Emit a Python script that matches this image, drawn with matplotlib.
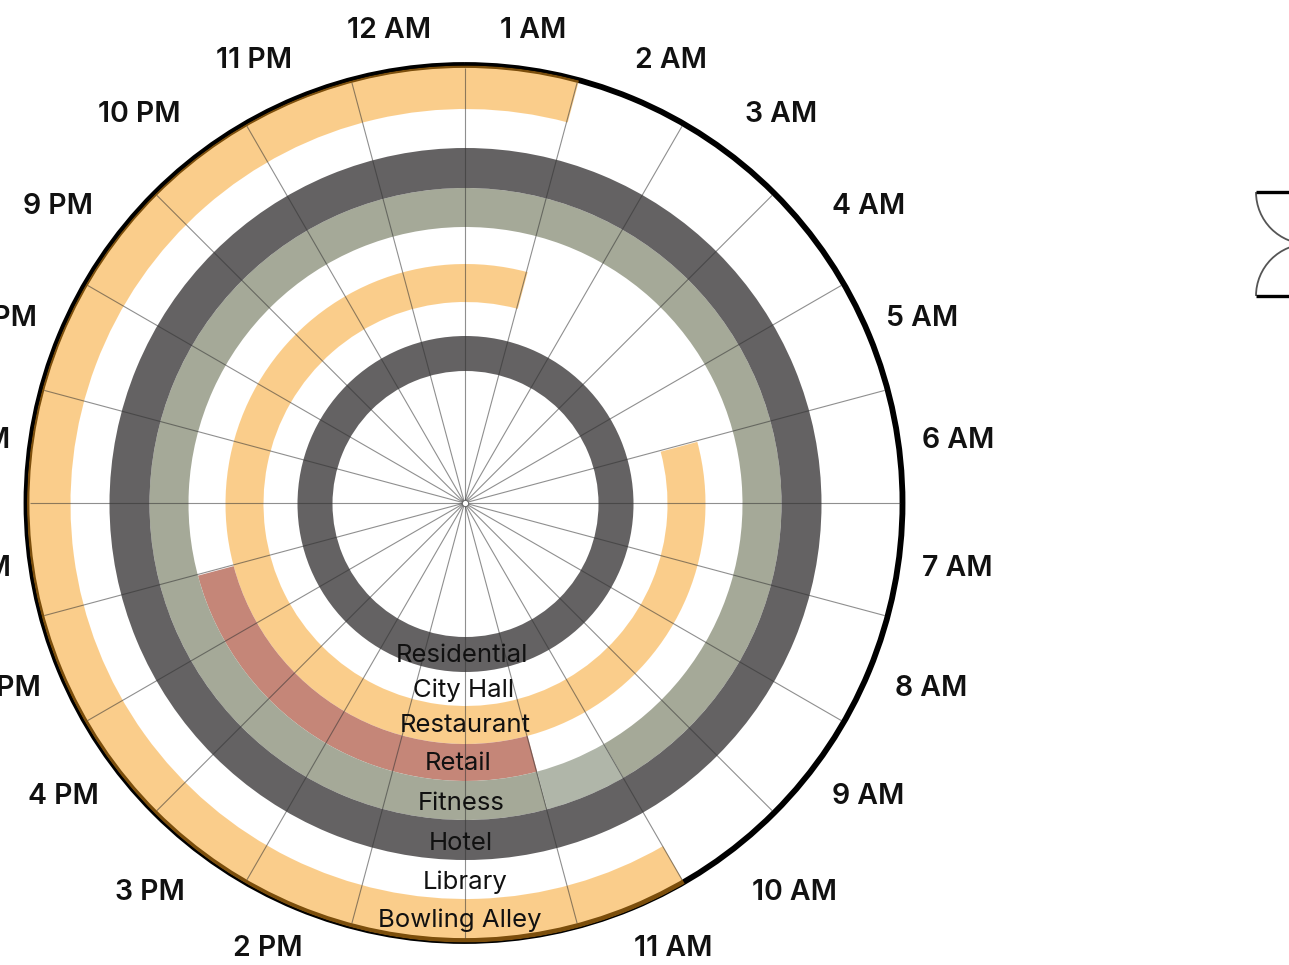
import numpy as np
import matplotlib
matplotlib.use("Agg")
import matplotlib.pyplot as plt
from matplotlib.patches import Arc

plt.rcParams['font.family'] = ['Inter', 'DejaVu Sans']

hours = ["1 AM", "2 AM", "3 AM", "4 AM", "5 AM", "6 AM", "7 AM", "8 AM", "9 AM", "10 AM", "11 AM", "12 PM",
         "1 PM", "2 PM", "3 PM", "4 PM", "5 PM", "6 PM", "7 PM", "8 PM", "9 PM", "10 PM", "11 PM", "12 AM"]
venues = ["Residential", "City Hall", "Restaurant", "Retail", "Fitness", "Hotel", "Library", "Bowling Alley"]
open_from = {"Residential": "1 AM", "Restaurant": "6 AM", "Retail": "12 PM", "Fitness": "12 PM",
             "Hotel": "1 AM", "Bowling Alley": "11 AM"}
open_to = {"Residential": "12 AM", "Restaurant": "1 AM", "Retail": "5 PM", "Fitness": "10 AM",
           "Hotel": "12 AM", "Bowling Alley": "1 AM"}
partial_hours = {"Fitness": ["11 AM"]}

# styles / layout
W, H = 1289, 965
ring_edges = [133, 168, 202, 240, 277, 316, 356, 395, 438.5]
colors = {"Residential": ("#646263", 1.0), "Restaurant": ("#F79D19", 0.5), "Retail": ("#C58678", 1.0),
          "Fitness": ("#A5A998", 1.0), "Hotel": ("#646263", 1.0), "Bowling Alley": ("#F79D19", 0.5)}
partial_color = "#B0B6A9"
# pixel centres of the hour labels; 12 PM and 1 PM fall below the canvas in the reference
label_xy = {"1 AM": (533, 30), "2 AM": (671, 61), "3 AM": (781, 115), "4 AM": (869, 206), "5 AM": (922, 318),
            "6 AM": (958, 440), "7 AM": (957, 568), "8 AM": (931, 688), "9 AM": (868, 797), "10 AM": (794, 893),
            "11 AM": (673, 948), "2 PM": (268, 948), "3 PM": (150, 893), "4 PM": (63, 797), "5 PM": (6, 688),
            "6 PM": (-24, 568), "7 PM": (-24, 440), "8 PM": (2, 318), "9 PM": (58, 206), "10 PM": (139, 115),
            "11 PM": (254, 61), "12 AM": (389, 30)}
label_x = {"Residential": 462, "City Hall": 464, "Restaurant": 465, "Retail": 458,
           "Fitness": 461, "Hotel": 461, "Library": 465, "Bowling Alley": 460}
label_y = {"Residential": 655, "City Hall": 690, "Restaurant": 725, "Retail": 763,
           "Fitness": 803, "Hotel": 843, "Library": 882, "Bowling Alley": 920}


def polar_axes(fig, cx, cy, R, z):
    ax = fig.add_axes([(cx - R) / W, 1 - (cy + R) / H, 2 * R / W, 2 * R / H], projection='polar', zorder=z)
    ax.set_theta_zero_location('N')
    ax.set_theta_direction(-1)
    ax.set_ylim(0, R)
    ax.set_xticks([])
    ax.set_yticks([])
    ax.grid(False)
    ax.patch.set_alpha(0)
    return ax


fig = plt.figure(figsize=(W / 100, H / 100), dpi=100, facecolor='white')
sector = 2 * np.pi / len(hours)

# frame
frame = polar_axes(fig, 464.5, 503, 438, 1)
frame.spines['polar'].set_linewidth(4.2)
frame.spines['polar'].set_color('black')
frame.spines['polar'].set_capstyle('butt')

# rings
rings = polar_axes(fig, 465.5, 504, 438.5, 2)
rings.spines['polar'].set_visible(False)
for i, v in enumerate(venues):
    r0, r1 = ring_edges[i], ring_edges[i + 1]
    if v in open_from:
        a = hours.index(open_from[v])
        b = hours.index(open_to[v])
        n = (b - a) % len(hours) + 1
        c, al = colors[v]
        rings.bar(a * sector, r1 - r0, width=n * sector, bottom=r0, align='edge',
                  color=c, alpha=al, linewidth=0)
    for h in partial_hours.get(v, []):
        rings.bar(hours.index(h) * sector, r1 - r0, width=sector, bottom=r0, align='edge',
                  color=partial_color, linewidth=0)

# spokes
top = polar_axes(fig, 464.5, 503, 438, 3)
top.spines['polar'].set_visible(False)
for k in range(len(hours)):
    top.plot([k * sector, k * sector], [0, 435], color='#333333', alpha=0.55, lw=0.8, solid_capstyle='butt')
top.set_ylim(0, 438)
top.plot([0], [0], 'o', ms=4.5, mfc='white', mec='#666666', mew=0.7)

# overlay in pixel coordinates: names, hour labels and the clipped neighbour mark
over = fig.add_axes([0, 0, 1, 1], zorder=4)
over.set_xlim(0, W)
over.set_ylim(H, 0)
over.axis('off')
over.patch.set_alpha(0)
for h in hours:
    if h in label_xy:
        over.text(*label_xy[h], h, ha='center', va='center', fontsize=20.5, fontweight=600, color='#111111')
for v in venues:
    over.text(label_x[v], label_y[v], v, ha='center', va='center', fontsize=18.5, color='#111111')
for yc, t1, t2 in [(192, 0, 180), (296, 180, 360)]:
    over.add_patch(Arc((1308, yc), 104, 104, theta1=t1, theta2=t2, color='#555555', lw=1.3))
    over.plot([1256, 1289], [yc, yc], color='black', lw=2.4, solid_capstyle='butt')

fig.savefig('out.png', dpi=100)
